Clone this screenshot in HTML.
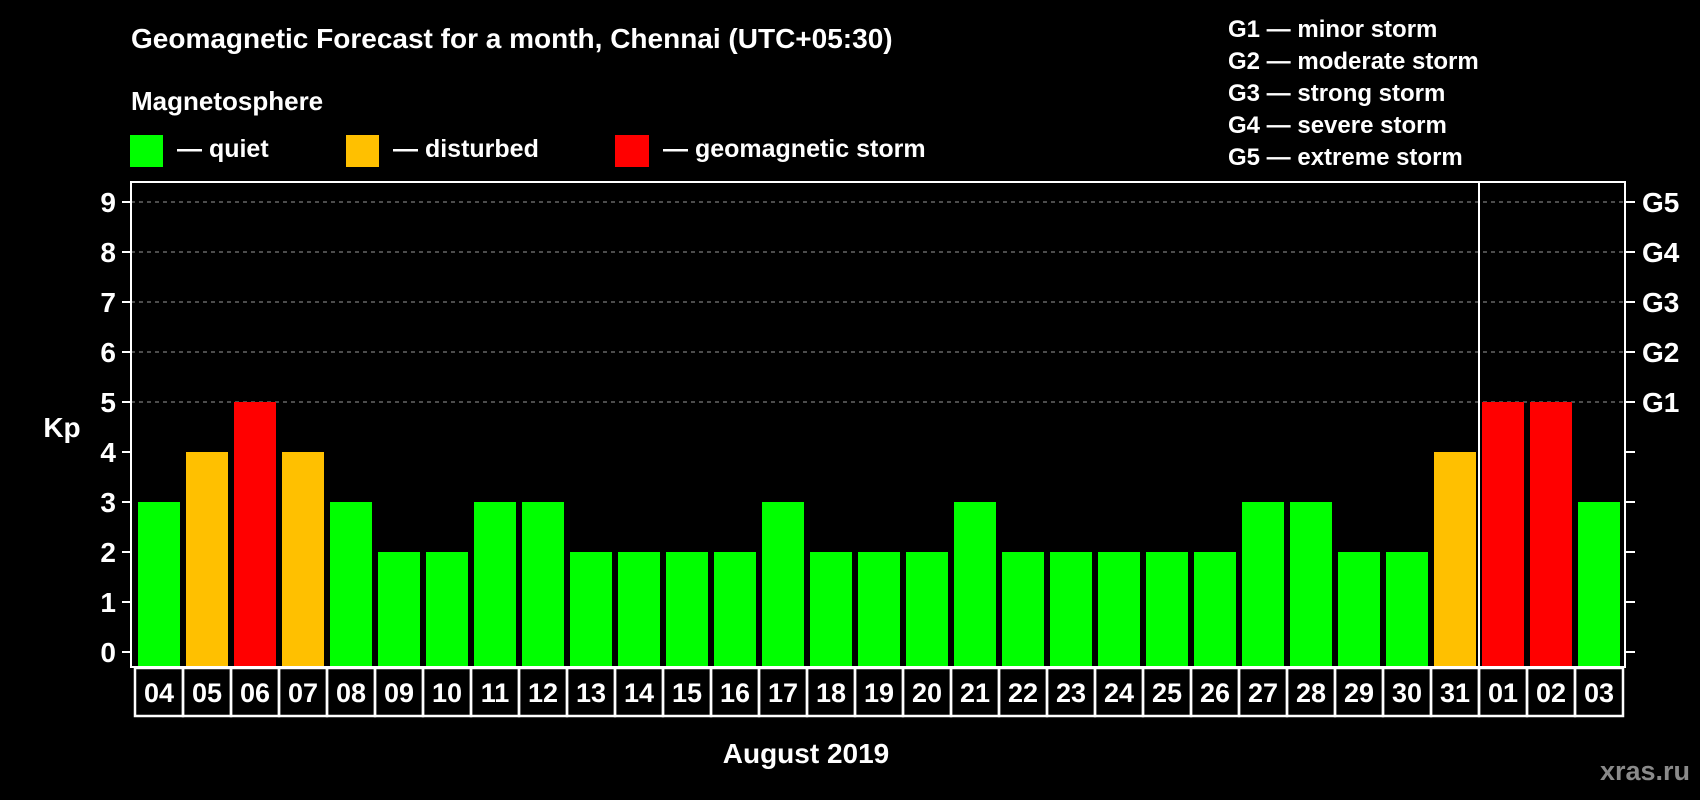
<!DOCTYPE html>
<html><head><meta charset="utf-8"><style>
html,body{margin:0;padding:0;background:#000;}
svg{display:block;font-family:"Liberation Sans",Arial,sans-serif;font-weight:bold;}
</style></head><body>
<svg id="chart" width="1700" height="800" viewBox="0 0 1700 800">
<rect x="0" y="0" width="1700" height="800" fill="#000"/>
<text x="131" y="48" fill="#fff" font-size="28">Geomagnetic Forecast for a month, Chennai (UTC+05:30)</text>
<text x="131" y="110" fill="#fff" font-size="26">Magnetosphere</text>
<rect x="130" y="135" width="33" height="32" fill="#00ff00"/>
<text x="177" y="157" fill="#fff" font-size="25">— quiet</text>
<rect x="346" y="135" width="33" height="32" fill="#ffc000"/>
<text x="393" y="157" fill="#fff" font-size="25">— disturbed</text>
<rect x="615" y="135" width="34" height="32" fill="#ff0000"/>
<text x="663" y="157" fill="#fff" font-size="25">— geomagnetic storm</text>
<g fill="#fff" font-size="24">
<text x="1228" y="37">G1 — minor storm</text>
<text x="1228" y="69">G2 — moderate storm</text>
<text x="1228" y="101">G3 — strong storm</text>
<text x="1228" y="133">G4 — severe storm</text>
<text x="1228" y="165">G5 — extreme storm</text>
</g>
<text x="62" y="437" fill="#fff" font-size="28" text-anchor="middle">Kp</text>
<text x="806" y="763" fill="#fff" font-size="28" text-anchor="middle">August 2019</text>
<text x="1690" y="780" fill="#8a8a8a" font-size="27" text-anchor="end">xras.ru</text>
<g id="grid"></g>
<g id="bars"></g>
<g id="axes"></g>
</svg>
<script>
const days = ["04","05","06","07","08","09","10","11","12","13","14","15","16","17","18","19","20","21","22","23","24","25","26","27","28","29","30","31","01","02","03"];
const kpValues = [3,4,5,4,3,2,2,3,3,2,2,2,2,3,2,2,2,3,2,2,2,2,2,3,3,2,2,4,5,5,3];
const yTicks = [0,1,2,3,4,5,6,7,8,9];
const stormLabels = ["G1","G2","G3","G4","G5"];
const stormLevels = [5,6,7,8,9];
const monthBreakIndex = 28;

const NS = "http://www.w3.org/2000/svg";
const plotL = 131, plotR = 1625, plotT = 182, plotB = 667;
const y0 = 652, unit = 50;
const barStart = 138, pitch = 48, barW = 42;
function yScale(v){ return y0 - v*unit; }
function xScale(i){ return barStart + i*pitch; }
function colorFor(v){ return v >= 5 ? "#ff0000" : (v >= 4 ? "#ffc000" : "#00ff00"); }
function mk(tag, attrs, parent){
  const e = document.createElementNS(NS, tag);
  for (const k in attrs) e.setAttribute(k, attrs[k]);
  parent.appendChild(e);
  return e;
}
const grid = document.getElementById("grid");
const bars = document.getElementById("bars");
const axes = document.getElementById("axes");

stormLevels.forEach((lv, i) => {
  const l = mk("line", {x1: plotL, x2: plotR, y1: yScale(lv), y2: yScale(lv), stroke: "#999", "stroke-width": 1, "stroke-dasharray": "4,4"}, grid);
  
  
  const t = mk("text", {x: 1642, y: yScale(lv) + 10, fill: "#fff", "font-size": 28}, axes);
  t.textContent = stormLabels[i];
  
  
});

kpValues.forEach((v, i) => {
  const r = mk("rect", {x: xScale(i), y: yScale(v), width: barW, height: plotB - yScale(v), fill: colorFor(v)}, bars);
  
  
  const c = mk("rect", {x: 135 + i*pitch, y: 668, width: pitch, height: 48, fill: "none", stroke: "#fff", "stroke-width": 2.5}, axes);
  
  
  const t = mk("text", {x: 135 + i*pitch + pitch/2, y: 702, fill: "#fff", "font-size": 27, "text-anchor": "middle"}, axes);
  t.textContent = days[i];
  
  
});

yTicks.forEach(v => {
  const tl = mk("line", {x1: 122, x2: plotL, y1: yScale(v), y2: yScale(v), stroke: "#fff", "stroke-width": 2}, axes);
  
  
  const tr = mk("line", {x1: plotR, x2: plotR + 10, y1: yScale(v), y2: yScale(v), stroke: "#fff", "stroke-width": 2}, axes);
  
  
  const t = mk("text", {x: 116, y: yScale(v) + 10, fill: "#fff", "font-size": 28, "text-anchor": "end"}, axes);
  t.textContent = String(v);
  
  
});

const frame = mk("rect", {x: plotL, y: plotT, width: plotR - plotL, height: plotB - plotT, fill: "none", stroke: "#fff", "stroke-width": 2}, axes);


const divX = xScale(monthBreakIndex) - (pitch - barW)/2;
const div = mk("line", {x1: divX, x2: divX, y1: plotT, y2: plotB, stroke: "#fff", "stroke-width": 2}, axes);


</script>
</body></html>
